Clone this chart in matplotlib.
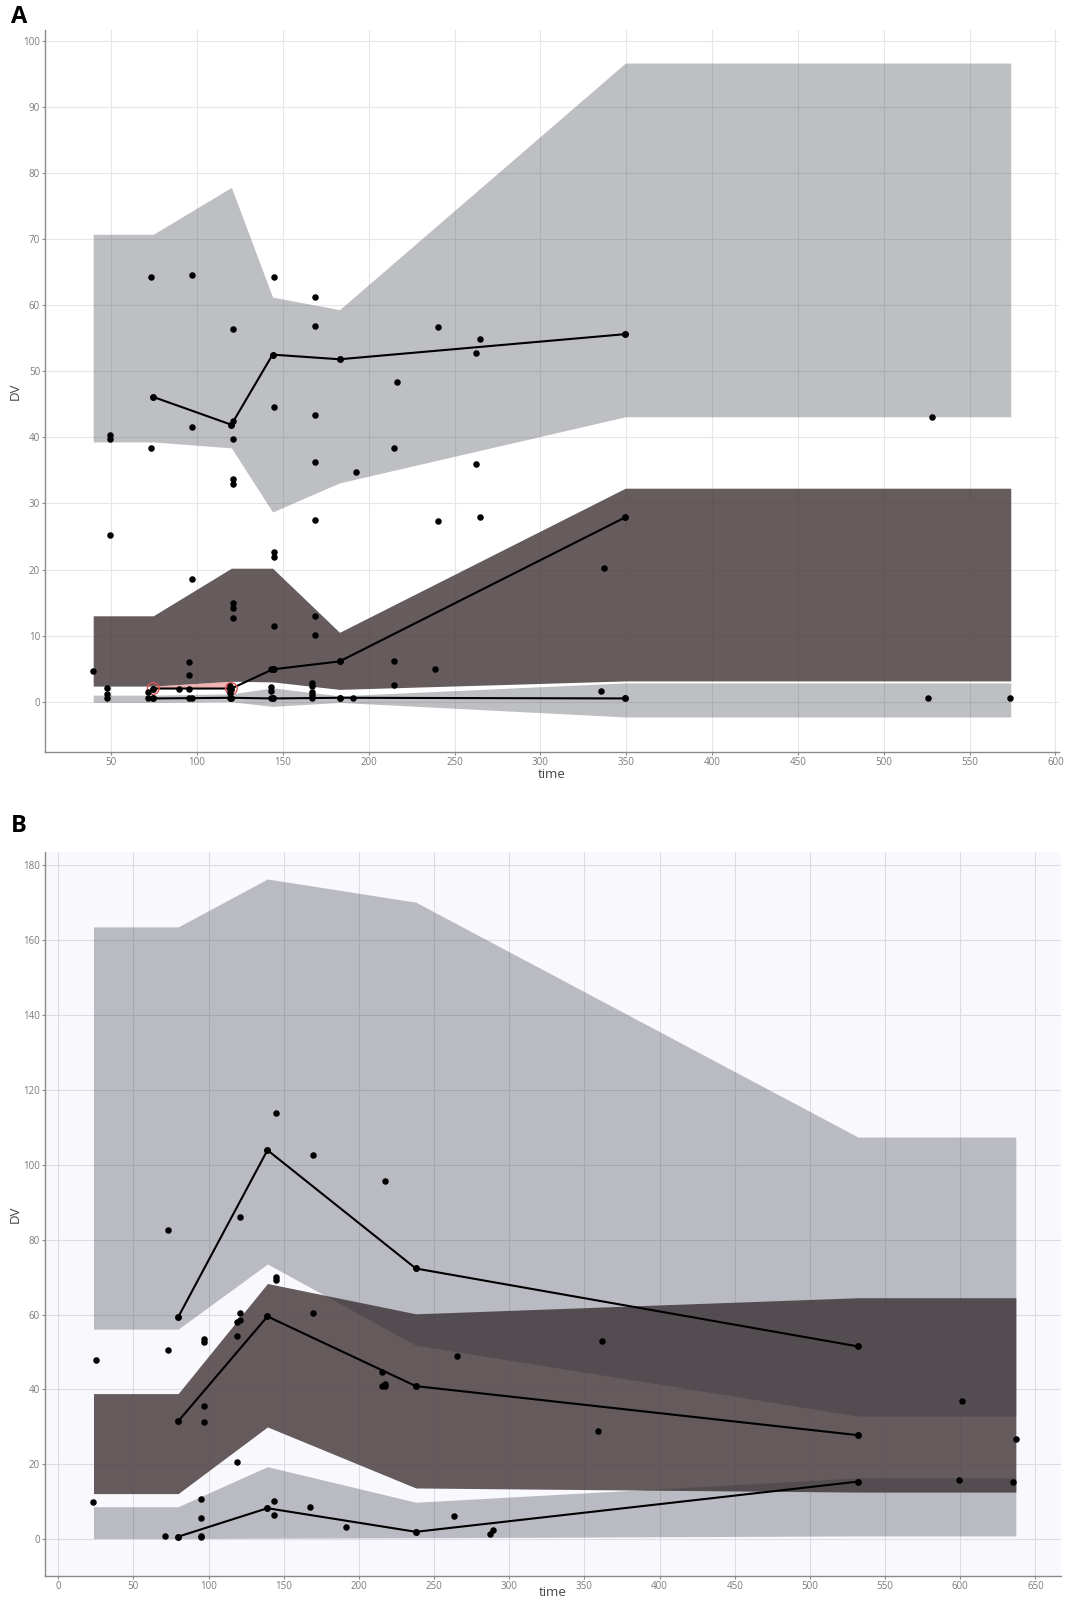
import matplotlib
matplotlib.use('Agg')
import matplotlib.pyplot as plt

# ---------------- Panel A data ----------------
a_bin_x = [39.5, 74.5, 120, 144, 183, 349.5, 574]
a_hi_top = [70.7, 70.7, 77.8, 61.2, 59.3, 96.6, 96.6]
a_hi_bot = [39.3, 39.3, 38.4, 28.7, 33.1, 43.1, 43.1]
a_med_top = [13.0, 13.0, 20.2, 20.2, 10.5, 32.3, 32.3]
a_med_bot = [2.37, 2.37, 3.1, 3.0, 1.87, 3.15, 3.15]
a_lo_top = [1.0, 1.0, 1.2, 2.1, 0.9, 2.85, 2.85]
a_lo_bot = [-0.1, -0.1, 0.0, -0.7, -0.1, -2.3, -2.3]

a_obs_x = [74.5, 120, 144, 183, 349.5]
a_obs_hi = [46.1, 41.9, 52.5, 51.8, 55.6]
a_obs_med = [2.0, 2.0, 4.9, 6.1, 27.9]
a_obs_lo = [0.5, 0.6, 0.5, 0.6, 0.5]

a_out_x = [74.5, 120]
a_out_obs = [2.0, 2.0]
a_out_band = [2.37, 3.1]

a_time = [73.2, 97.2, 121, 145, 168.8, 168.8, 240.6, 264.6, 262.4, 216.6,
          145, 168.8, 49.2, 49.2, 97.2, 121, 121, 73.2, 214.6, 168.8,
          192.6, 262.4, 121, 121, 168.8, 240.6, 264.6, 49.2, 145, 145,
          97.2, 121, 121, 121, 145, 168.8, 168.8, 39.2, 95.2, 95.2,
          214.6, 238.6, 214.6, 47.4, 47.4, 47.4, 71.2, 71.2, 89.2, 95.2,
          95.2, 97.2, 119.2, 119.2, 119.2, 119.2, 143, 143, 143, 166.8,
          166.8, 166.8, 166.8, 166.8, 190.8, 528, 336.9, 335.1, 526, 573.8,
          145, 143]
a_dv = [64.3, 64.6, 56.4, 64.3, 61.2, 56.8, 56.7, 54.8, 52.7, 48.4,
        44.6, 43.3, 40.3, 39.8, 41.5, 42.4, 39.7, 38.4, 38.4, 36.3,
        34.7, 36.0, 33.7, 32.9, 27.5, 27.3, 27.9, 25.2, 22.7, 21.9,
        18.5, 14.9, 14.2, 12.6, 11.4, 13.0, 10.1, 4.7, 6.0, 4.1,
        6.2, 4.9, 2.5, 2.1, 1.1, 0.6, 1.5, 0.6, 1.9, 2.0,
        0.6, 0.6, 2.4, 1.8, 1.3, 0.6, 2.2, 1.7, 0.6, 2.9,
        2.4, 1.5, 1.0, 0.6, 0.6, 43.1, 20.3, 1.7, 0.6, 0.6,
        4.9, 4.9]

a_xticks = [50, 100, 150, 200, 250, 300, 350, 400, 450, 500, 550, 600]
a_yticks = [0, 10, 20, 30, 40, 50, 60, 70, 80, 90, 100]

# ---------------- Panel B data ----------------
b_bin_x = [23.5, 79.8, 139.2, 237.9, 532, 637]
b_hi_top = [163.5, 163.5, 176.3, 170.1, 107.4, 107.4]
b_hi_bot = [56.1, 56.1, 73.5, 51.8, 32.9, 32.9]
b_med_top = [38.9, 38.9, 68.3, 60.2, 64.5, 64.5]
b_med_bot = [12.2, 12.2, 30.0, 13.7, 12.6, 12.6]
b_lo_top = [8.7, 8.7, 19.4, 9.9, 16.4, 16.4]
b_lo_bot = [0.2, 0.2, 0.3, 0.4, 0.9, 0.9]

b_obs_x = [79.8, 139.2, 237.9, 532]
b_obs_hi = [59.3, 103.9, 72.3, 51.5]
b_obs_med = [31.5, 59.5, 40.9, 27.8]
b_obs_lo = [0.7, 8.3, 2.0, 15.4]

b_time = [145.2, 169.3, 217.2, 73.2, 121.2, 25.3, 73.2, 97.3, 97.3, 121.2,
          118.9, 121.2, 118.9, 144.9, 144.9, 169.3, 215.1, 215.3, 217.4, 217.4,
          265.5, 97.3, 97.3, 118.9, 23.0, 95.0, 95.0, 95.0, 95.0, 71.1,
          143.3, 143.3, 167.2, 191.2, 263.4, 287.1, 289.2, 361.4, 359.3, 601.3,
          637.2, 599.2, 635.4]
b_dv = [113.7, 102.7, 95.7, 82.5, 86.1, 48.0, 50.6, 53.5, 52.6, 60.5,
        58.0, 58.6, 54.3, 70.0, 69.1, 60.3, 44.7, 40.8, 41.4, 40.9,
        48.9, 35.6, 31.4, 20.6, 9.9, 10.7, 5.7, 0.9, 0.5, 0.8,
        10.2, 6.5, 8.5, 3.2, 6.1, 1.5, 2.6, 53.0, 28.9, 36.8,
        26.7, 15.9, 15.2]

b_xticks = [0, 50, 100, 150, 200, 250, 300, 350, 400, 450, 500, 550, 600, 650]
b_yticks = [0, 20, 40, 60, 80, 100, 120, 140, 160, 180]

# ---------------- styling ----------------
GRAY_BAND = (42/255, 45/255, 58/255)
MED_BAND = (75/255, 63/255, 64/255)
FONT = ['Open Sans', 'DejaVu Sans']

fig = plt.figure(figsize=(10.65, 16), dpi=100)


def style_axes(ax, bg, gridc, xticks, yticks, xlim, ylim, xlab_y):
    ax.set_facecolor(bg)
    ax.set_xlim(*xlim)
    ax.set_ylim(*ylim)
    ax.set_xticks(xticks)
    ax.set_yticks(yticks)
    ax.set_axisbelow(True)
    ax.grid(True, color=gridc, linewidth=0.8)
    for s in ['top', 'right']:
        ax.spines[s].set_visible(False)
    for s in ['left', 'bottom']:
        ax.spines[s].set_color('#8a8a8a')
        ax.spines[s].set_linewidth(1.0)
    ax.tick_params(axis='both', direction='out', length=2.5, width=0.8, pad=1,
                   color='#8a8a8a', labelcolor='#7a7a7a', labelsize=7)
    for lab in ax.get_xticklabels() + ax.get_yticklabels():
        lab.set_family(FONT)
    ax.set_xlabel('time', family=FONT, fontsize=9.5, color='#444444', va='center')
    ax.set_ylabel('DV', family=FONT, fontsize=9.5, color='#444444', va='center')
    ax.xaxis.set_label_coords(0.5, xlab_y)
    ax.yaxis.set_label_coords(-0.029, 0.5)


def draw_vpc(ax, bx, hi_t, hi_b, med_t, med_b, lo_t, lo_b, ox, o_hi, o_med, o_lo):
    ax.fill_between(bx, med_b, med_t, color=MED_BAND, alpha=0.85, linewidth=0, zorder=2)
    ax.fill_between(bx, hi_b, hi_t, color=GRAY_BAND, alpha=0.30, linewidth=0, zorder=3)
    ax.fill_between(bx, lo_b, lo_t, color=GRAY_BAND, alpha=0.30, linewidth=0, zorder=3)
    for oy in (o_hi, o_med, o_lo):
        ax.plot(ox, oy, color='black', linewidth=1.5, marker='o', markersize=4, zorder=5)


# ---------------- Panel A ----------------
axA = fig.add_axes([0.0422, 0.530, 0.952, 0.45125])
style_axes(axA, 'white', '#e6e6e6', a_xticks, a_yticks, (11.4, 602), (-7.6, 101.6), -0.031)
draw_vpc(axA, a_bin_x, a_hi_top, a_hi_bot, a_med_top, a_med_bot, a_lo_top, a_lo_bot,
         a_obs_x, a_obs_hi, a_obs_med, a_obs_lo)
axA.fill_between(a_out_x, a_out_obs, a_out_band, color='#e05a5a', alpha=0.45,
                 linewidth=0, zorder=4)
axA.scatter(a_out_x, a_out_obs, s=70, facecolors='none', edgecolors='#e05050',
            linewidths=1.0, zorder=6)
axA.scatter(a_time, a_dv, s=22, color='black', zorder=6, linewidths=0)
fig.text(0.010, 0.9895, 'A', fontsize=17, fontweight='bold', family=FONT,
         va='center', ha='left')

# ---------------- Panel B ----------------
axB = fig.add_axes([0.0422, 0.015, 0.9540, 0.4525])
style_axes(axB, '#f9f9fd', '#dcdce6', b_xticks, b_yticks, (-8.8, 667), (-9.8, 183.5), -0.023)
draw_vpc(axB, b_bin_x, b_hi_top, b_hi_bot, b_med_top, b_med_bot, b_lo_top, b_lo_bot,
         b_obs_x, b_obs_hi, b_obs_med, b_obs_lo)
axB.scatter(b_time, b_dv, s=22, color='black', zorder=6, linewidths=0)
fig.text(0.010, 0.4835, 'B', fontsize=17, fontweight='bold', family=FONT,
         va='center', ha='left')

fig.savefig('out.png', dpi=100)
